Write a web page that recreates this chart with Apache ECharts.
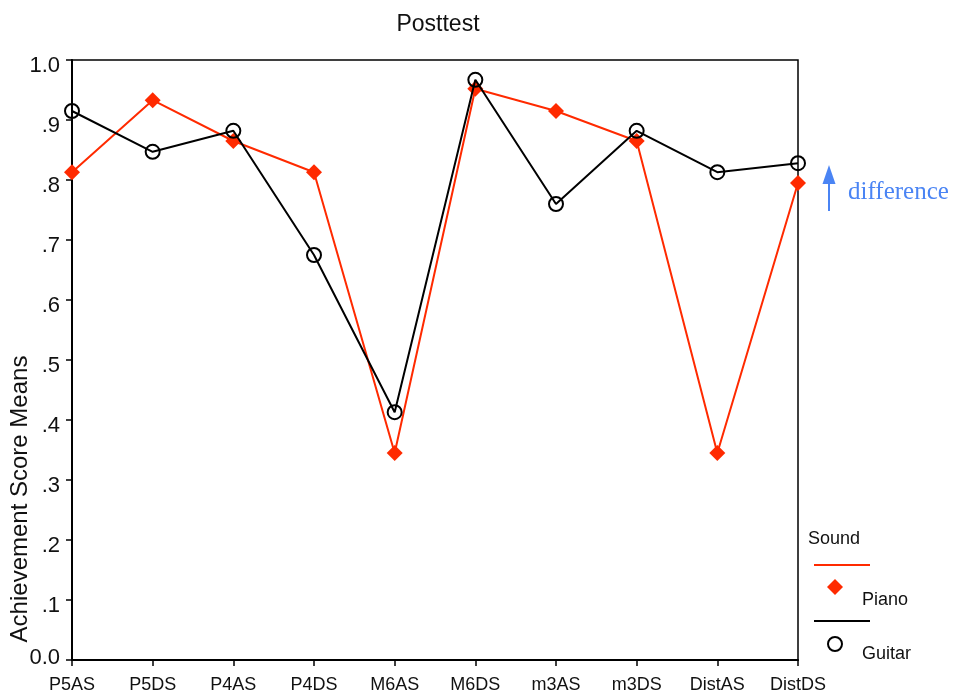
<!DOCTYPE html>
<html>
<head>
<meta charset="utf-8">
<script src="https://cdn.jsdelivr.net/npm/echarts@6/dist/echarts.min.js"></script>
<style>
  html, body { margin: 0; padding: 0; background: #fff; }
  #chart { width: 958px; height: 696px; }
</style>
</head>
<body>
<div id="chart"></div>
<script>
// Interval categories on the x axis
const categories = ['P5AS', 'P5DS', 'P4AS', 'P4DS', 'M6AS', 'M6DS', 'm3AS', 'm3DS', 'DistAS', 'DistDS'];

// Mean achievement scores per sound
const pianoMeans  = [0.813, 0.933, 0.865, 0.813, 0.345, 0.952, 0.915, 0.865, 0.345, 0.795];
const guitarMeans = [0.915, 0.847, 0.882, 0.675, 0.413, 0.967, 0.760, 0.882, 0.813, 0.828];

const RED = '#ff2a00';
const BLUE = '#4a84f4';
const FONT = 'Liberation Sans, Arial, sans-serif';

const chart = echarts.init(document.getElementById('chart'));

const tickFont = { fontFamily: FONT, fontSize: 22, color: '#111' };

chart.setOption({
  animation: false,
  backgroundColor: '#fff',
  title: {
    text: 'Posttest',
    left: 433,
    top: 8,
    textAlign: 'center',
    textStyle: { fontFamily: FONT, fontSize: 23, fontWeight: 'normal', color: '#111' }
  },
  grid: {
    left: 72, right: 160, top: 60, bottom: 36,
    show: true, borderColor: '#000', borderWidth: 1.5, backgroundColor: 'transparent'
  },
  xAxis: {
    type: 'category',
    data: categories,
    boundaryGap: false,
    axisLine: { lineStyle: { color: '#000', width: 2 } },
    axisTick: { show: true, length: 6, alignWithLabel: true, lineStyle: { color: '#000', width: 1.5 } },
    axisLabel: { fontFamily: FONT, fontSize: 18, color: '#111', margin: 16, interval: 0 },
    splitLine: { show: false }
  },
  yAxis: {
    type: 'value',
    min: 0, max: 1, interval: 0.1,
    axisLine: { show: true, lineStyle: { color: '#000', width: 2 } },
    axisTick: { show: true, length: 6, lineStyle: { color: '#000', width: 1.5 } },
    axisLabel: {
      fontFamily: FONT, fontSize: 22, color: '#111', margin: 12,
      formatter: function (v) {
        if (Math.abs(v) < 1e-9) return '{zero|0.0}';
        if (Math.abs(v - 1) < 1e-9) return '{num|1.0}';
        return '{num|.' + Math.round(v * 10) + '}';
      },
      rich: {
        num: Object.assign({ padding: [11, 0, 0, 0] }, tickFont),
        zero: Object.assign({ padding: [0, 0, 4, 0] }, tickFont)
      }
    },
    splitLine: { show: false }
  },
  series: [
    {
      name: 'Piano',
      type: 'line',
      data: pianoMeans,
      symbol: 'diamond',
      symbolSize: 16,
      itemStyle: { color: RED },
      lineStyle: { color: RED, width: 2 },
      z: 3
    },
    {
      name: 'Guitar',
      type: 'line',
      data: guitarMeans,
      symbol: 'circle',
      symbolSize: 14,
      itemStyle: { color: 'transparent', borderColor: '#000', borderWidth: 2 },
      lineStyle: { color: '#000', width: 2 },
      z: 4
    }
  ],
  graphic: [
    // y axis title
    {
      type: 'text',
      x: 20, y: 499,
      rotation: Math.PI / 2,
      style: {
        text: 'Achievement Score Means',
        fontFamily: FONT, fontSize: 24, fill: '#111',
        align: 'center', verticalAlign: 'middle'
      }
    },
    // legend block
    {
      type: 'text', x: 808, y: 539,
      style: { text: 'Sound', fontFamily: FONT, fontSize: 18, fill: '#111', verticalAlign: 'middle' }
    },
    {
      type: 'line', shape: { x1: 814, y1: 565, x2: 870, y2: 565 },
      style: { stroke: RED, lineWidth: 2 }
    },
    {
      type: 'polygon', shape: { points: [[835, 579], [843, 587], [835, 595], [827, 587]] },
      style: { fill: RED }
    },
    {
      type: 'text', x: 862, y: 600,
      style: { text: 'Piano', fontFamily: FONT, fontSize: 18, fill: '#111', verticalAlign: 'middle' }
    },
    {
      type: 'line', shape: { x1: 814, y1: 621, x2: 870, y2: 621 },
      style: { stroke: '#000', lineWidth: 2 }
    },
    {
      type: 'circle', shape: { cx: 835, cy: 644, r: 7 },
      style: { fill: 'transparent', stroke: '#000', lineWidth: 2 }
    },
    {
      type: 'text', x: 862, y: 654,
      style: { text: 'Guitar', fontFamily: FONT, fontSize: 18, fill: '#111', verticalAlign: 'middle' }
    },
    // "difference" arrow note
    {
      type: 'line', shape: { x1: 829, y1: 211, x2: 829, y2: 180 },
      style: { stroke: BLUE, lineWidth: 2 }
    },
    {
      type: 'polygon', shape: { points: [[829, 165], [835.5, 184], [822.5, 184]] },
      style: { fill: BLUE }
    },
    {
      type: 'text', x: 848, y: 192,
      style: { text: 'difference', fontFamily: 'Liberation Serif, Times New Roman, serif', fontSize: 25, fill: BLUE, verticalAlign: 'middle' }
    }
  ]
});
</script>
</body>
</html>
